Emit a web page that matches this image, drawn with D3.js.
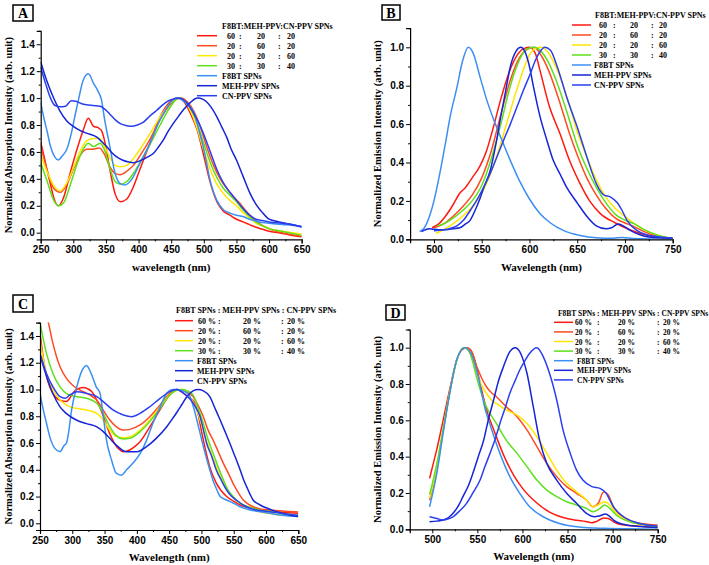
<!DOCTYPE html>
<html>
<head>
<meta charset="utf-8">
<script src="https://cdnjs.cloudflare.com/ajax/libs/d3/7.8.5/d3.min.js"></script>
<style>
body { margin: 0; background: #fff; }
svg text { font-family: "Liberation Serif", "Times New Roman", serif; font-weight: bold; fill: #000; }
.tick text { font-family: "Liberation Sans", Arial, sans-serif; font-size: 10px; font-weight: bold; }
</style>
</head>
<body>
<svg id="fig" width="709" height="565"></svg>
<script>
// ---- data: [wavelength, normalized intensity] ----
// Panel A: absorption
const A_s1 = [[250,0.67],[255,0.57],[260,0.46],[265,0.36],[270,0.26],[277,0.2],[285,0.26],[295,0.44],[305,0.61],[315,0.76],[323,0.85],[331,0.79],[338,0.78],[343,0.76],[349,0.66],[356,0.47],[364,0.29],[372,0.23],[382,0.25],[392,0.34],[402,0.47],[417,0.66],[433,0.86],[448,0.97],[460,1.0],[470,0.97],[480,0.88],[490,0.76],[500,0.57],[510,0.37],[520,0.23],[530,0.16],[540,0.13],[550,0.1],[560,0.08],[570,0.06],[580,0.04],[590,0.025],[600,0.01],[615,0.0],[630,-0.015],[650,-0.03]];
const A_s2 = [[250,0.65],[260,0.46],[270,0.33],[280,0.3],[290,0.36],[300,0.47],[310,0.57],[320,0.62],[330,0.62],[340,0.63],[348,0.58],[356,0.49],[364,0.44],[372,0.43],[380,0.45],[392,0.5],[402,0.57],[417,0.69],[433,0.84],[448,0.95],[460,0.995],[465,1.0],[475,0.97],[485,0.9],[495,0.78],[505,0.63],[515,0.5],[525,0.4],[535,0.33],[545,0.27],[555,0.22],[565,0.16],[575,0.11],[585,0.07],[595,0.04],[605,0.02],[620,0.0],[635,-0.015],[650,-0.025]];
const A_s3 = [[250,0.58],[260,0.45],[270,0.35],[280,0.31],[290,0.37],[300,0.48],[310,0.6],[320,0.68],[330,0.7],[340,0.7],[348,0.64],[356,0.56],[364,0.5],[372,0.49],[382,0.5],[392,0.55],[402,0.62],[418,0.74],[433,0.86],[448,0.96],[462,1.0],[470,0.98],[480,0.9],[490,0.77],[500,0.61],[510,0.47],[520,0.36],[530,0.29],[540,0.24],[550,0.2],[560,0.15],[570,0.11],[580,0.07],[590,0.05],[600,0.03],[620,0.01],[650,-0.01]];
const A_s4 = [[250,0.52],[260,0.38],[270,0.24],[278,0.2],[285,0.22],[295,0.35],[305,0.5],[315,0.62],[323,0.665],[331,0.64],[341,0.665],[349,0.6],[356,0.48],[364,0.38],[372,0.36],[382,0.38],[392,0.44],[402,0.52],[418,0.66],[433,0.8],[448,0.93],[462,1.0],[470,0.98],[480,0.92],[490,0.81],[500,0.66],[510,0.52],[520,0.41],[530,0.33],[540,0.28],[550,0.23],[560,0.17],[570,0.12],[580,0.08],[590,0.05],[600,0.03],[620,0.01],[650,-0.02]];
const A_f8bt = [[250,0.97],[255,0.85],[260,0.75],[265,0.64],[272,0.56],[277,0.54],[283,0.57],[290,0.62],[297,0.74],[303,0.88],[308,0.99],[315,1.13],[323,1.18],[331,1.11],[338,1.05],[343,0.99],[348,0.84],[356,0.64],[364,0.44],[372,0.365],[379,0.355],[390,0.4],[402,0.515],[417,0.66],[433,0.84],[448,0.96],[458,1.0],[465,0.99],[475,0.95],[484,0.9],[492,0.77],[499,0.64],[505,0.5],[510,0.38],[515,0.3],[520,0.24],[530,0.17],[540,0.145],[550,0.13],[560,0.12],[570,0.1],[581,0.085],[590,0.075],[600,0.07],[620,0.06],[635,0.055],[650,0.045]];
const A_meh = [[250,1.27],[255,1.19],[260,1.12],[269,1.01],[280,0.9],[290,0.83],[300,0.79],[310,0.76],[320,0.74],[336,0.71],[345,0.67],[351,0.64],[358,0.6],[366,0.565],[375,0.54],[385,0.525],[392,0.52],[400,0.53],[407,0.545],[415,0.565],[423,0.59],[431,0.64],[438,0.69],[445,0.75],[453,0.81],[462,0.87],[470,0.92],[480,0.97],[490,1.0],[499,0.99],[510,0.94],[520,0.86],[528,0.78],[535,0.71],[542,0.62],[550,0.54],[560,0.42],[571,0.29],[580,0.21],[588,0.16],[600,0.1],[615,0.08],[630,0.065],[650,0.045]];
const A_cn = [[250,1.23],[258,1.1],[265,1.0],[272,0.945],[280,0.935],[288,0.94],[297,0.98],[305,0.975],[312,0.96],[320,0.95],[330,0.945],[341,0.94],[350,0.91],[356,0.88],[364,0.84],[372,0.81],[382,0.795],[390,0.79],[398,0.8],[407,0.82],[418,0.87],[428,0.91],[437,0.95],[446,0.98],[455,0.995],[461,1.0],[468,0.99],[476,0.95],[484,0.89],[492,0.82],[500,0.73],[510,0.6],[520,0.47],[530,0.37],[540,0.3],[550,0.24],[560,0.18],[570,0.13],[580,0.1],[590,0.09],[600,0.08],[620,0.07],[635,0.06],[650,0.04]];

// Panel B: emission
const B_s1 = [[498,0.06],[505,0.08],[512,0.12],[520,0.18],[527,0.24],[533,0.27],[540,0.32],[548,0.38],[555,0.46],[562,0.58],[570,0.73],[578,0.86],[586,0.95],[593,0.99],[600,1.0],[606,0.97],[611,0.88],[621,0.69],[632,0.55],[642,0.41],[653,0.29],[663,0.2],[674,0.135],[690,0.085],[705,0.05],[720,0.025],[735,0.01],[750,0.005]];
const B_s2 = [[500,0.06],[510,0.08],[520,0.12],[530,0.17],[540,0.23],[550,0.32],[560,0.46],[570,0.65],[580,0.83],[590,0.95],[598,0.99],[605,1.0],[612,0.96],[620,0.88],[630,0.74],[642,0.55],[650,0.44],[660,0.32],[670,0.23],[680,0.16],[690,0.11],[700,0.085],[710,0.065],[720,0.04],[735,0.015],[750,0.005]];
const B_s3 = [[502,0.03],[510,0.05],[520,0.08],[530,0.12],[540,0.17],[550,0.24],[560,0.35],[570,0.5],[580,0.67],[590,0.83],[598,0.94],[605,0.99],[612,1.0],[620,0.97],[630,0.87],[640,0.73],[650,0.56],[660,0.43],[670,0.31],[680,0.22],[690,0.16],[700,0.12],[710,0.08],[720,0.05],[735,0.02],[750,0.005]];
const B_s4 = [[503,0.07],[510,0.08],[520,0.11],[530,0.15],[540,0.2],[550,0.28],[560,0.42],[570,0.6],[580,0.8],[590,0.94],[597,0.99],[605,1.0],[612,0.98],[620,0.92],[630,0.8],[640,0.65],[650,0.49],[660,0.37],[670,0.27],[680,0.19],[690,0.13],[700,0.1],[710,0.08],[720,0.05],[735,0.02],[750,0.005]];
const B_f8bt = [[485,0.04],[490,0.06],[496,0.13],[500,0.2],[506,0.34],[512,0.5],[517,0.64],[524,0.79],[530,0.93],[536,1.0],[541,0.97],[548,0.85],[555,0.73],[562,0.63],[570,0.53],[580,0.41],[590,0.3],[600,0.21],[610,0.14],[622,0.085],[636,0.045],[653,0.02],[670,0.008],[688,0.005],[697,0.01],[710,0.004],[750,0.0]];
const B_meh = [[487,0.04],[495,0.055],[505,0.05],[513,0.05],[520,0.055],[527,0.06],[533,0.08],[538,0.1],[543,0.15],[548,0.21],[553,0.28],[559,0.36],[565,0.5],[570,0.64],[575,0.77],[580,0.9],[586,0.98],[591,1.0],[595,0.98],[600,0.9],[604,0.8],[611,0.64],[618,0.52],[625,0.41],[632,0.34],[639,0.27],[650,0.19],[660,0.12],[670,0.07],[680,0.055],[686,0.06],[693,0.08],[700,0.065],[706,0.045],[715,0.025],[725,0.012],[750,0.005]];
const B_cn = [[500,0.045],[510,0.05],[517,0.057],[524,0.07],[531,0.1],[538,0.15],[545,0.205],[552,0.27],[559,0.344],[566,0.43],[573,0.517],[580,0.6],[587,0.69],[594,0.78],[601,0.864],[606,0.93],[611,0.977],[616,1.0],[622,0.985],[629,0.9],[639,0.74],[650,0.585],[660,0.43],[670,0.29],[678,0.23],[685,0.22],[692,0.19],[697,0.15],[702,0.1],[712,0.048],[722,0.025],[733,0.014],[750,0.005]];

// Panel C: absorption
const C_s1 = [[250,1.42],[255,1.24],[260,1.1],[265,1.02],[270,0.97],[281,0.92],[291,0.91],[296,0.935],[302,0.98],[307,1.0],[317,1.015],[324,1.005],[330,0.985],[338,0.92],[348,0.8],[358,0.67],[365,0.6],[372,0.555],[379,0.535],[389,0.548],[397,0.575],[405,0.61],[420,0.72],[436,0.85],[451,0.96],[462,1.0],[470,0.98],[480,0.94],[487,0.92],[493,0.85],[503,0.62],[513,0.42],[523,0.3],[539,0.2],[550,0.165],[560,0.137],[575,0.115],[590,0.1],[610,0.09],[630,0.08],[650,0.075]];
const C_s2 = [[250,1.8],[257,1.62],[263,1.5],[270,1.345],[281,1.17],[291,1.083],[301,1.03],[312,0.996],[327,0.959],[338,0.92],[348,0.846],[358,0.772],[368,0.722],[379,0.697],[389,0.702],[405,0.735],[420,0.797],[436,0.884],[451,0.971],[462,1.0],[470,0.995],[478,0.98],[487,0.947],[495,0.88],[503,0.797],[510,0.7],[518,0.623],[526,0.535],[534,0.448],[542,0.37],[549,0.299],[557,0.23],[565,0.174],[572,0.145],[580,0.124],[593,0.105],[606,0.1],[630,0.09],[650,0.085]];
const C_s3 = [[250,1.37],[260,1.12],[270,1.0],[281,0.921],[291,0.884],[300,0.865],[307,0.859],[322,0.847],[338,0.822],[348,0.772],[358,0.697],[368,0.65],[379,0.64],[389,0.647],[405,0.697],[420,0.772],[436,0.872],[451,0.96],[462,0.995],[470,1.0],[480,0.96],[490,0.88],[498,0.772],[505,0.66],[513,0.548],[521,0.45],[529,0.349],[537,0.28],[544,0.224],[552,0.18],[560,0.15],[575,0.115],[590,0.087],[610,0.07],[630,0.06],[650,0.05]];
const C_s4 = [[250,1.5],[260,1.27],[270,1.12],[281,1.02],[291,0.97],[307,0.946],[322,0.934],[338,0.897],[348,0.822],[358,0.722],[368,0.655],[379,0.63],[389,0.635],[405,0.685],[420,0.76],[436,0.859],[451,0.959],[462,0.995],[470,1.0],[478,0.99],[487,0.96],[495,0.86],[503,0.747],[510,0.63],[518,0.523],[526,0.42],[534,0.324],[541,0.25],[549,0.2],[557,0.16],[565,0.137],[578,0.115],[590,0.1],[610,0.085],[630,0.07],[650,0.06]];
const C_f8bt = [[250,0.97],[255,0.85],[260,0.75],[265,0.65],[273,0.56],[281,0.535],[287,0.58],[291,0.6],[294,0.67],[299,0.85],[307,1.02],[314,1.13],[322,1.18],[330,1.11],[337,1.02],[343,0.97],[348,0.8],[353,0.62],[361,0.47],[368,0.375],[376,0.36],[384,0.4],[394,0.45],[405,0.52],[415,0.62],[425,0.75],[436,0.87],[446,0.97],[456,1.0],[462,1.0],[470,0.99],[476,0.98],[482,0.95],[487,0.88],[493,0.77],[503,0.573],[513,0.398],[518,0.32],[524,0.249],[529,0.2],[539,0.174],[550,0.15],[560,0.124],[575,0.1],[591,0.087],[606,0.075],[622,0.062],[636,0.055],[650,0.05]];
const C_meh = [[250,1.26],[260,1.1],[270,0.97],[281,0.87],[291,0.82],[307,0.77],[322,0.745],[338,0.72],[348,0.685],[358,0.635],[368,0.585],[384,0.535],[400,0.535],[415,0.573],[430,0.635],[446,0.72],[455,0.78],[462,0.83],[470,0.89],[478,0.95],[487,0.99],[495,1.0],[503,0.99],[513,0.947],[521,0.86],[529,0.772],[537,0.68],[544,0.598],[552,0.5],[560,0.398],[565,0.33],[570,0.274],[575,0.22],[580,0.174],[588,0.145],[596,0.124],[606,0.105],[616,0.087],[630,0.07],[650,0.05]];
const C_cn = [[250,1.27],[260,1.12],[270,1.02],[281,0.946],[289,0.934],[296,0.959],[307,0.984],[322,0.971],[338,0.946],[348,0.909],[363,0.847],[379,0.81],[392,0.797],[405,0.822],[420,0.871],[436,0.934],[451,0.984],[462,1.0],[470,0.98],[478,0.95],[487,0.9],[493,0.85],[498,0.797],[503,0.7],[508,0.598],[516,0.5],[523,0.398],[531,0.32],[539,0.249],[547,0.2],[554,0.174],[565,0.135],[575,0.112],[590,0.095],[606,0.087],[630,0.07],[650,0.06]];

// Panel D: emission
const D_s1 = [[497,0.28],[501,0.36],[505,0.44],[512,0.6],[520,0.785],[527,0.93],[533,0.99],[538,1.0],[542,0.99],[546,0.95],[551,0.85],[557,0.72],[562,0.63],[568,0.55],[579,0.41],[590,0.3],[601,0.22],[616,0.145],[630,0.095],[645,0.065],[660,0.05],[670,0.043],[677,0.036],[683,0.045],[690,0.062],[695,0.06],[700,0.045],[705,0.032],[715,0.022],[727,0.018],[750,0.01]];
const D_s2 = [[497,0.16],[505,0.33],[512,0.54],[520,0.77],[527,0.93],[533,0.99],[538,1.0],[543,0.985],[549,0.9],[555,0.83],[560,0.785],[566,0.75],[571,0.73],[582,0.675],[594,0.62],[605,0.547],[616,0.455],[627,0.363],[638,0.29],[649,0.235],[660,0.198],[671,0.161],[678,0.124],[684,0.143],[690,0.205],[695,0.19],[701,0.124],[706,0.09],[712,0.069],[727,0.036],[750,0.023]];
const D_s3 = [[497,0.17],[505,0.34],[512,0.55],[520,0.77],[527,0.93],[535,1.0],[540,0.99],[545,0.93],[549,0.86],[555,0.79],[560,0.749],[566,0.71],[571,0.693],[582,0.657],[594,0.629],[605,0.583],[616,0.51],[627,0.418],[638,0.326],[649,0.253],[660,0.207],[671,0.161],[678,0.124],[684,0.134],[691,0.152],[697,0.134],[704,0.088],[712,0.06],[719,0.042],[735,0.025],[750,0.014]];
const D_s4 = [[497,0.19],[505,0.36],[512,0.55],[520,0.77],[527,0.93],[535,1.0],[540,0.985],[545,0.92],[549,0.84],[555,0.74],[560,0.675],[571,0.583],[582,0.491],[594,0.418],[605,0.345],[616,0.271],[627,0.216],[638,0.18],[649,0.152],[660,0.134],[671,0.115],[678,0.097],[686,0.115],[691,0.134],[697,0.115],[704,0.079],[712,0.055],[719,0.042],[735,0.025],[750,0.014]];
const D_f8bt = [[497,0.124],[505,0.308],[512,0.528],[520,0.767],[527,0.932],[536,1.0],[543,0.969],[551,0.84],[558,0.675],[566,0.547],[575,0.418],[586,0.29],[597,0.198],[608,0.124],[623,0.069],[641,0.032],[660,0.014],[680,0.007],[697,0.005],[750,0.0]];
const D_meh = [[497,0.042],[505,0.045],[512,0.051],[518,0.065],[523,0.088],[529,0.13],[534,0.18],[540,0.24],[545,0.308],[551,0.4],[557,0.491],[562,0.6],[568,0.712],[573,0.81],[579,0.896],[586,0.978],[592,1.0],[597,0.978],[601,0.93],[605,0.859],[612,0.675],[619,0.491],[627,0.363],[638,0.271],[649,0.198],[660,0.143],[671,0.088],[680,0.069],[686,0.075],[692,0.084],[697,0.07],[701,0.051],[715,0.024],[730,0.015],[750,0.01]];
const D_cn = [[497,0.069],[505,0.06],[512,0.051],[518,0.058],[523,0.069],[530,0.1],[538,0.143],[545,0.2],[553,0.271],[558,0.34],[564,0.418],[570,0.5],[575,0.583],[581,0.67],[586,0.749],[592,0.82],[597,0.877],[603,0.93],[608,0.969],[616,1.0],[623,0.951],[630,0.859],[638,0.712],[645,0.547],[653,0.418],[660,0.326],[667,0.271],[677,0.235],[686,0.225],[693,0.198],[697,0.16],[701,0.124],[712,0.069],[727,0.036],[750,0.018]];

// legend labels
const ratioRowsAB = [["60", "20", "20"], ["20", "60", "20"], ["20", "20", "60"], ["30", "30", "40"]];
const ratioRowsCD = [["60 %", "20 %", "20 %"], ["20 %", "60 %", "20 %"], ["20 %", "20 %", "60 %"], ["30 %", "30 %", "40 %"]];
const pureNames = ["F8BT SPNs", "MEH-PPV SPNs", "CN-PPV SPNs"];
const seriesColors = ["#ff1a10", "#ff4a22", "#ffe600", "#5ee01c", "#3b8ff2", "#1424d6", "#2a3ff0"];

// ticks
const absXMajor = d3.range(250, 651, 50), absXMinor = d3.range(275, 650, 50);
const absYMajor = d3.range(0, 1.41, 0.2), absYMinor = d3.range(0.1, 1.51, 0.2);
const emXMajor = d3.range(500, 751, 50), emXMinor = d3.range(475, 750, 50);
const emYMajor = d3.range(0, 1.01, 0.2), emYMinor = d3.range(0.1, 1.11, 0.2);

// panel layout
const panels = [
    { id: "A", series: [A_s1, A_s2, A_s3, A_s4, A_f8bt, A_meh, A_cn],
      xDom: [250, 650], xRange: [40.7, 301.7], yDom: [-0.05, 1.5], yRange: [239.4, 30.8],
      xMajor: absXMajor, xMinor: absXMinor, yMajor: absYMajor, yMinor: absYMinor,
      xTitle: "wavelength (nm)", xTitleY: 271, yTitle: "Normalized Absorption Intensity (arb. unit)", yTitleX: 11.5,
      box: [13, 5, 20, 16],
      leg: { title: "F8BT:MEH-PPV:CN-PPV SPNs", tx: 222, ty: 29, lx: [197, 217], ry: 35.7, dy: 10, cols: [227, 239, 257, 278, 287], nx: 222, fs: 8, rows: ratioRowsAB } },
    { id: "B", series: [B_s1, B_s2, B_s3, B_s4, B_f8bt, B_meh, B_cn],
      xDom: [475, 750], xRange: [410.1, 672.7], yDom: [0, 1.1], yRange: [239.3, 28.1],
      xMajor: emXMajor, xMinor: emXMinor, yMajor: emYMajor, yMinor: emYMinor,
      xTitle: "Wavelength (nm)", xTitleY: 271, yTitle: "Normalized Emission Intensity (arb. unit)", yTitleX: 381,
      box: [382, 5, 18, 15],
      leg: { title: "F8BT:MEH-PPV:CN-PPV SPNs", tx: 595, ty: 18, lx: [572, 591], ry: 25, dy: 10, cols: [599, 613, 630, 651, 659], nx: 594, fs: 8, rows: ratioRowsAB } },
    { id: "C", series: [C_s1, C_s2, C_s3, C_s4, C_f8bt, C_meh, C_cn],
      xDom: [250, 650], xRange: [40, 298.3], yDom: [-0.05, 1.5], yRange: [530, 322.6],
      xMajor: absXMajor, xMinor: absXMinor, yMajor: absYMajor, yMinor: absYMinor,
      xTitle: "Wavelength (nm)", xTitleY: 561, yTitle: "Normalized Absorption Intensity (arb. unit)", yTitleX: 11.5,
      box: [13, 295, 20, 17],
      leg: { title: "F8BT SPNs : MEH-PPV SPNs : CN-PPV SPNs", tx: 176, ty: 313, lx: [175, 193], ry: 320.7, dy: 10, cols: [198, 218, 243, 281, 287], nx: 197, fs: 8, rows: ratioRowsCD } },
    { id: "D", series: [D_s1, D_s2, D_s3, D_s4, D_f8bt, D_meh, D_cn],
      xDom: [475, 750], xRange: [409.75, 657.7], yDom: [0, 1.1], yRange: [529.3, 329.5],
      xMajor: emXMajor, xMinor: emXMinor, yMajor: emYMajor, yMinor: emYMinor,
      xTitle: "Wavelength (nm)", xTitleY: 560, yTitle: "Normalized Emission Intensity (arb. unit)", yTitleX: 381,
      box: [386, 305, 19, 15],
      leg: { title: "F8BT SPNs : MEH-PPV SPNs : CN-PPV SPNs", tx: 558, ty: 316, lx: [554, 573], ry: 322.3, dy: 9.6, cols: [575, 597, 618, 657, 663], nx: 577, fs: 7.5, rows: ratioRowsCD } }
];

const svg = d3.select("#fig");

function drawPanel(p) {
    const x = d3.scaleLinear().domain(p.xDom).range(p.xRange);
    const y = d3.scaleLinear().domain(p.yDom).range(p.yRange);
    const g = svg.append("g");

    // clip the curves to the plot area
    const clipId = "clip" + p.id;
    svg.append("clipPath").attr("id", clipId).append("rect")
        .attr("x", p.xRange[0]).attr("y", p.yRange[1])
        .attr("width", p.xRange[1] - p.xRange[0]).attr("height", p.yRange[0] - p.yRange[1]);

    const line = d3.line().x(d => x(d[0])).y(d => y(d[1])).curve(d3.curveMonotoneX);
    g.append("g").attr("clip-path", `url(#${clipId})`)
        .selectAll("path").data(p.series).enter().append("path")
        .attr("d", line)
        .attr("fill", "none")
        .attr("stroke", (_, i) => seriesColors[i])
        .attr("stroke-width", 1.5)
        .attr("stroke-linejoin", "round");

    // axes (major + minor ticks, outward)
    const fmt = d3.format(".1f");
    const xAx = g.append("g").attr("transform", `translate(0,${p.yRange[0]})`);
    xAx.call(d3.axisBottom(x).tickValues(p.xMajor).tickSize(4).tickPadding(3).tickFormat(d3.format("d")));
    xAx.append("g").call(d3.axisBottom(x).tickValues(p.xMinor).tickSize(2).tickFormat(""))
        .select(".domain").remove();
    const yAx = g.append("g").attr("transform", `translate(${p.xRange[0]},0)`);
    yAx.call(d3.axisLeft(y).tickValues(p.yMajor).tickSize(4).tickPadding(2).tickFormat(fmt));
    yAx.append("g").call(d3.axisLeft(y).tickValues(p.yMinor).tickSize(2).tickFormat(""))
        .select(".domain").remove();
    g.selectAll(".domain").attr("stroke", "#000").attr("stroke-width", 1.2);
    g.selectAll(".tick line").attr("stroke", "#000").attr("stroke-width", 1);

    // axis titles
    g.append("text")
        .attr("x", (p.xRange[0] + p.xRange[1]) / 2).attr("y", p.xTitleY)
        .attr("text-anchor", "middle").attr("font-size", 11)
        .text(p.xTitle);
    g.append("text")
        .attr("transform", `translate(${p.yTitleX},${(p.yRange[0] + p.yRange[1]) / 2}) rotate(-90)`)
        .attr("text-anchor", "middle").attr("font-size", 10.5)
        .text(p.yTitle);

    // panel letter
    const [bx, by, bw, bh] = p.box;
    g.append("rect").attr("x", bx).attr("y", by).attr("width", bw).attr("height", bh)
        .attr("fill", "#fff").attr("stroke", "#000").attr("stroke-width", 1.5);
    g.append("text").attr("x", bx + bw / 2).attr("y", by + bh / 2 + 5)
        .attr("text-anchor", "middle").attr("font-size", 14).text(p.id);

    // legend
    const L = p.leg;
    const lg = g.append("g").attr("font-size", L.fs);
    lg.append("text").attr("x", L.tx).attr("y", L.ty).text(L.title);
    seriesColors.forEach((c, i) => {
        const yy = L.ry + i * L.dy;
        lg.append("line").attr("x1", L.lx[0]).attr("x2", L.lx[1]).attr("y1", yy).attr("y2", yy)
            .attr("stroke", c).attr("stroke-width", 1.5);
        if (i < 4) {
            const r = L.rows[i];
            const cells = [r[0], ":", r[1], ":", r[2]];
            cells.forEach((t, k) => lg.append("text").attr("x", L.cols[k]).attr("y", yy + 3).text(t));
        } else {
            lg.append("text").attr("x", L.nx).attr("y", yy + 3).text(pureNames[i - 4]);
        }
    });
}

panels.forEach(drawPanel);
</script>
</body>
</html>
